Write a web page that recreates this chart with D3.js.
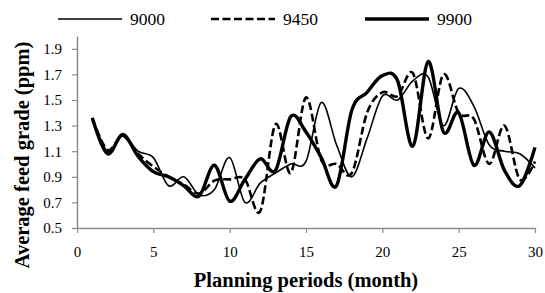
<!DOCTYPE html>
<html>
<head>
<meta charset="utf-8">
<script src="https://cdn.jsdelivr.net/npm/d3@7"></script>
<style>
  body { margin: 0; background: #fff; }
  svg { display: block; }
</style>
</head>
<body>
<div id="vis"></div>
<script>
// Average feed grade per planning period, three scenarios, Excel-style smoothed lines.

const MONTHS = d3.range(1, 31);

const SERIES_NAMES = ["9000", "9450", "9900"];

const GRADE_9000 = [1.36, 1.10, 1.22, 1.10, 1.05, 0.83, 0.90, 0.76, 0.80, 1.05,
                    0.70, 0.85, 0.93, 1.00, 1.02, 1.48, 1.15, 0.90, 1.20, 1.53,
                    1.50, 1.65, 1.68, 1.30, 1.59, 1.45, 1.15, 1.10, 1.08, 0.97];
const GRADE_9450 = [1.36, 1.11, 1.22, 1.08, 0.98, 0.90, 0.84, 0.77, 0.87, 0.88,
                    0.88, 0.63, 1.31, 0.93, 1.52, 1.03, 1.00, 0.93, 1.40, 1.56,
                    1.53, 1.71, 1.20, 1.70, 1.40, 1.35, 1.00, 1.30, 0.88, 1.02];
const GRADE_9900 = [1.36, 1.08, 1.23, 1.06, 0.94, 0.90, 0.83, 0.75, 0.99, 0.71,
                    0.88, 1.04, 0.95, 1.37, 1.25, 1.05, 0.83, 1.42, 1.56, 1.69,
                    1.65, 1.14, 1.80, 1.25, 1.40, 0.99, 1.25, 0.95, 0.83, 1.13];

const X_TICKS = [0, 5, 10, 15, 20, 25, 30];
const Y_TICKS = [0.5, 0.7, 0.9, 1.1, 1.3, 1.5, 1.7, 1.9];

const STYLES = [
  { width: 1.6, dash: null },
  { width: 2.6, dash: "8,3.5" },
  { width: 3.4, dash: null },
];

const W = 545, H = 293;
const margin = { top: 36, right: 10, bottom: 65, left: 77 };
const innerW = 535 - margin.left;
const innerH = 228 - margin.top;

const FONT = "Liberation Serif";

const svg = d3.select("#vis").append("svg")
  .attr("width", W)
  .attr("height", H);

const x = d3.scaleLinear().domain([0, 30]).range([margin.left, margin.left + innerW]);
const y = d3.scaleLinear().domain([0.5, 2.0]).range([margin.top + innerH, margin.top]);

// ── Axes ──────────────────────────────────────────────────────────────────

const AXIS_COLOR = "#8c8c8c";

svg.append("g")
  .attr("transform", `translate(0,${margin.top + innerH})`)
  .call(d3.axisBottom(x).tickValues(X_TICKS).tickSize(5).tickSizeOuter(0).tickPadding(13))
  .attr("font-family", FONT)
  .attr("font-size", 15)
  .call(ax => ax.select(".domain").attr("stroke", AXIS_COLOR).attr("stroke-width", 1.5))
  .call(ax => ax.selectAll(".tick line").attr("stroke", AXIS_COLOR).attr("stroke-width", 1.2))
  .selectAll("text")
    .attr("fill", "#000");

svg.append("g")
  .attr("transform", `translate(${margin.left},0)`)
  .call(d3.axisLeft(y).tickValues(Y_TICKS).tickFormat(d3.format(".1f")).tickSize(5).tickSizeOuter(0).tickPadding(10))
  .attr("font-family", FONT)
  .attr("font-size", 15)
  .call(ax => ax.select(".domain").attr("stroke", AXIS_COLOR).attr("stroke-width", 1.5))
  .call(ax => ax.selectAll(".tick line").attr("stroke", AXIS_COLOR).attr("stroke-width", 1.2))
  .selectAll("text")
    .attr("fill", "#000");

svg.append("text")
  .attr("x", 306)
  .attr("y", 287)
  .attr("text-anchor", "middle")
  .attr("font-family", FONT)
  .attr("font-weight", "bold")
  .attr("font-size", 20.5)
  .text("Planning periods (month)");

svg.append("text")
  .attr("transform", "translate(29,155) rotate(-90)")
  .attr("text-anchor", "middle")
  .attr("font-family", FONT)
  .attr("font-weight", "bold")
  .attr("font-size", 20.5)
  .text("Average feed grade (ppm)");

// ── Lines ─────────────────────────────────────────────────────────────────

const line = d3.line()
  .x((d, i) => x(MONTHS[i]))
  .y(d => y(d))
  .curve(d3.curveCardinal.tension(0));

[GRADE_9000, GRADE_9450, GRADE_9900].forEach((vals, k) => {
  svg.append("path")
    .datum(vals)
    .attr("d", line)
    .attr("fill", "none")
    .attr("stroke", "#000")
    .attr("stroke-width", STYLES[k].width)
    .attr("stroke-dasharray", STYLES[k].dash)
    .attr("stroke-linejoin", "round");
});

// ── Legend ────────────────────────────────────────────────────────────────

const LEGEND_X = [58, 211, 365];
SERIES_NAMES.forEach((name, k) => {
  const g = svg.append("g").attr("transform", `translate(${LEGEND_X[k]},19)`);
  g.append("line")
    .attr("x1", 0).attr("x2", 64)
    .attr("stroke", "#000")
    .attr("stroke-width", STYLES[k].width)
    .attr("stroke-dasharray", STYLES[k].dash);
  g.append("text")
    .attr("x", 72)
    .attr("y", 6)
    .attr("font-family", FONT)
    .attr("font-size", 17.5)
    .text(name);
});
</script>
</body>
</html>
